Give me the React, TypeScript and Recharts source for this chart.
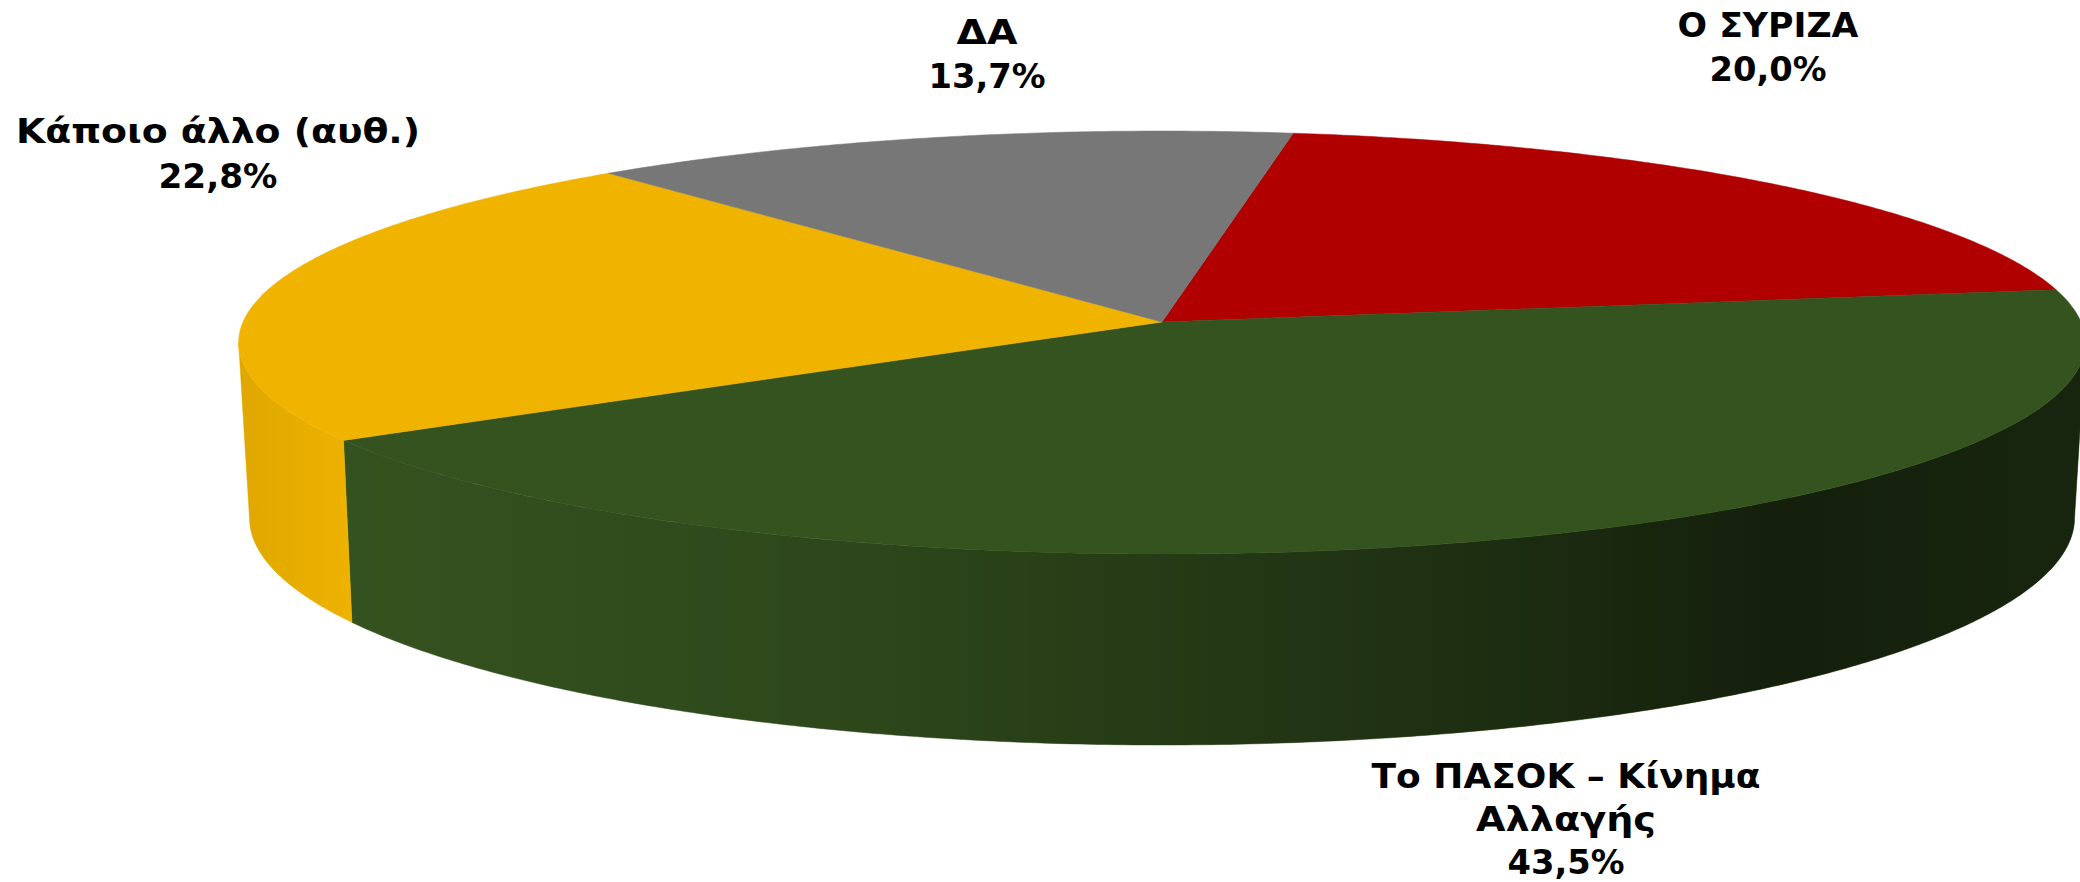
import { PieChart, Pie } from 'recharts';

const categories = ['Ο ΣΥΡΙΖΑ', 'Το ΠΑΣΟΚ – Κίνημα Αλλαγής', 'Κάποιο άλλο (αυθ.)', 'ΔΑ'];
const shares = [20.0, 43.5, 22.8, 13.7];
const colors = ['#b10000', '#35531f', '#f0b400', '#777777'];

const data = categories.map((name, i) => ({ name, value: shares[i], fill: colors[i] }));

const WIDTH = 2080;
const HEIGHT = 882;
const CX = 1162;
const CY = 322;
const RADIUS = 919;
const FONT_SIZE = 34;

// perspective of the disc: top face and the (slightly smaller, more open) bottom face
const TOP_FACE = { scaleX: 1, scaleY: 209.5 / 919, tilt: 0.097, dy: 0 };
const BOTTOM_FACE = { scaleX: 908 / 919, scaleY: 225 / 919, tilt: 0.1, dy: 173 };

// rim runs between the two side silhouettes of the bottom face
const RIM_LIMIT = (Math.asin(BOTTOM_FACE.tilt) * 180) / Math.PI;

// darkening of the rim from left to right: [x, black opacity]
const RIM_SHADE = [
  [243, 0.07],
  [350, 0.01],
  [867, 0.15],
  [1095, 0.27],
  [1435, 0.42],
  [1775, 0.62],
  [2080, 0.55],
];

// label centre x, first baseline, line step; same order as categories
const labelAnchors = [
  [1768, 37, 44],
  [1566, 788, 43],
  [218, 143, 45],
  [987, 44, 44],
];
// drawn width of each label line, the installed fonts run narrower than the original
const labelWidths = [
  [181, 117],
  [389, 180, 117],
  [404, 119],
  [61, 117],
];

const project = (cx: number, cy: number, r: number, deg: number, face: typeof TOP_FACE) => {
  const a = (deg * Math.PI) / 180;
  const u = Math.cos(a);
  const v = Math.sin(a);
  const w = 1 + face.tilt * v;
  return [cx + (r * face.scaleX * u) / w, cy + face.dy - (r * face.scaleY * v) / w];
};

const arcPoints = (cx: number, cy: number, r: number, from: number, to: number, face: typeof TOP_FACE) => {
  const steps = Math.max(2, Math.ceil(Math.abs(to - from) * 2));
  const pts = [];
  for (let i = 0; i <= steps; i++) {
    pts.push(project(cx, cy, r, from + ((to - from) * i) / steps, face));
  }
  return pts;
};

const toPath = (pts: number[][]) =>
  pts.map((p, i) => `${i ? 'L' : 'M'}${p[0].toFixed(2)},${p[1].toFixed(2)}`).join(' ') + ' Z';

function DiscSlice(props: any) {
  const { cx, cy, outerRadius, startAngle, endAngle, fill, index } = props;
  const hi = Math.max(startAngle, endAngle);
  const lo = Math.min(startAngle, endAngle);

  // only the part of the rim that faces the viewer
  const paths = [];
  const from = Math.min(hi, -RIM_LIMIT);
  const to = Math.max(lo, -180 + RIM_LIMIT);
  if (from > to) {
    const top = arcPoints(cx, cy, outerRadius, from, to, TOP_FACE);
    const bottom = arcPoints(cx, cy, outerRadius, to, from, BOTTOM_FACE);
    paths.push(toPath([...top, ...bottom]));
  }

  const gradId = `rim-shade-${index}`;
  const face = toPath([[cx, cy], ...arcPoints(cx, cy, outerRadius, startAngle, endAngle, TOP_FACE)]);

  return (
    <g>
      <defs>
        <linearGradient id={gradId} gradientUnits="userSpaceOnUse" x1={RIM_SHADE[0][0]} y1={0} x2={WIDTH} y2={0}>
          {RIM_SHADE.map(([x, o]) => (
            <stop key={x} offset={(x - RIM_SHADE[0][0]) / (WIDTH - RIM_SHADE[0][0])} stopColor="#000" stopOpacity={o} />
          ))}
        </linearGradient>
      </defs>
      {paths.map((d) => (
        <g key={d}>
          <path d={d} fill={fill} stroke={fill} strokeWidth={0.5} />
          <path d={d} fill={`url(#${gradId})`} />
        </g>
      ))}
      <path d={face} fill={fill} stroke={fill} strokeWidth={0.5} />
    </g>
  );
}

function wrapName(name: string) {
  if (name.length <= 20) return [name];
  const cut = name.lastIndexOf(' ');
  return [name.slice(0, cut), name.slice(cut + 1)];
}

function SliceLabel(props: any) {
  const { index, name, value } = props;
  const [x, y, step] = labelAnchors[index];
  const lines = [...wrapName(name), `${value.toFixed(1).replace('.', ',')}%`];
  return (
    <g>
      {lines.map((line, i) => (
        <text
          key={line}
          x={x}
          y={y + i * step}
          textAnchor="middle"
          textLength={labelWidths[index][i]}
          lengthAdjust="spacingAndGlyphs"
          fontFamily="'DejaVu Sans', sans-serif"
          fontWeight={700}
          fontSize={FONT_SIZE}
          fill="#000"
        >
          {line}
        </text>
      ))}
    </g>
  );
}

export default function App() {
  return (
    <div style={{ position: 'absolute', left: 0, top: 0, width: WIDTH, height: HEIGHT, background: '#fff' }}>
      <PieChart width={WIDTH} height={HEIGHT} margin={{ top: 0, right: 0, bottom: 0, left: 0 }}>
        <Pie
          data={data}
          dataKey="value"
          nameKey="name"
          cx={CX}
          cy={CY}
          innerRadius={0}
          outerRadius={RADIUS}
          startAngle={81}
          endAngle={-279}
          shape={DiscSlice}
          label={SliceLabel}
          labelLine={false}
          isAnimationActive={false}
        />
      </PieChart>
    </div>
  );
}
